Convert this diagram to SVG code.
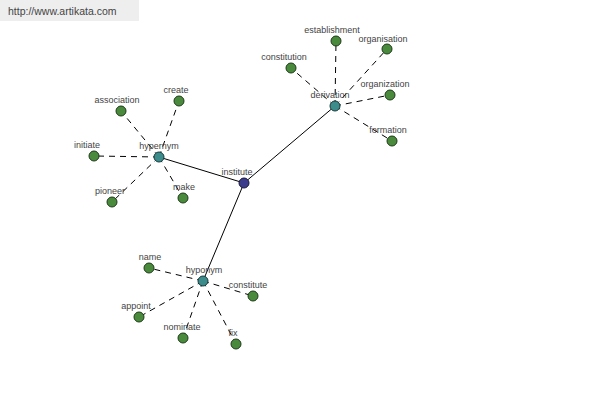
<svg xmlns="http://www.w3.org/2000/svg" width="600" height="400" viewBox="0 0 600 400">
<style>
.bg{fill:#ffffff}
.hdr{fill:#eeeeee}
.hdrt{font-family:"Liberation Sans",Arial,sans-serif;font-size:10.5px;fill:#444444}
.e{stroke:#000;stroke-width:1;fill:none}
.d{stroke:#000;stroke-width:1;fill:none;stroke-dasharray:6,5}
.leaf{fill:#4a8a3c;stroke:#1e3a1a;stroke-width:1}
.hub{fill:#3c8c8c;stroke:#1a3a3a;stroke-width:1}
.root{fill:#3c3c8c;stroke:#1a1a3a;stroke-width:1}
.l{font-family:"Liberation Sans",Arial,sans-serif;font-size:9px;fill:#444444;text-anchor:middle}
</style>
<rect class="bg" x="0" y="0" width="600" height="400"/>
<rect class="hdr" x="0" y="0" width="139" height="21"/>
<text class="hdrt" x="8" y="15">http://www.artikata.com</text>
<g id="connectors">
<line class="e" x1="244" y1="183" x2="159" y2="157"/>
<line class="e" x1="244" y1="183" x2="335" y2="106"/>
<line class="e" x1="244" y1="183" x2="203" y2="281"/>
<line class="d" x1="159" y1="157" x2="121" y2="111"/>
<line class="d" x1="159" y1="157" x2="179" y2="101"/>
<line class="d" x1="159" y1="157" x2="94" y2="156"/>
<line class="d" x1="159" y1="157" x2="112" y2="202"/>
<line class="d" x1="159" y1="157" x2="183" y2="198"/>
<line class="d" x1="335" y1="106" x2="336" y2="41"/>
<line class="d" x1="335" y1="106" x2="387" y2="49"/>
<line class="d" x1="335" y1="106" x2="291" y2="68"/>
<line class="d" x1="335" y1="106" x2="390" y2="95"/>
<line class="d" x1="335" y1="106" x2="392" y2="141"/>
<line class="d" x1="203" y1="281" x2="149" y2="268"/>
<line class="d" x1="203" y1="281" x2="253" y2="296"/>
<line class="d" x1="203" y1="281" x2="139" y2="317"/>
<line class="d" x1="203" y1="281" x2="183" y2="338"/>
<line class="d" x1="203" y1="281" x2="236" y2="344"/>
</g>
<g id="institute"><circle class="root" cx="244" cy="183" r="5"/><text class="l" x="237" y="175">institute</text></g>
<g id="hypernym"><circle class="hub" cx="159" cy="157" r="5"/><text class="l" x="159" y="149">hypernym</text></g>
<g id="derivation"><circle class="hub" cx="335" cy="106" r="5"/><text class="l" x="330" y="98">derivation</text></g>
<g id="hyponym"><circle class="hub" cx="203" cy="281" r="5"/><text class="l" x="204" y="273">hyponym</text></g>
<g id="association"><circle class="leaf" cx="121" cy="111" r="5"/><text class="l" x="117" y="103">association</text></g>
<g id="create"><circle class="leaf" cx="179" cy="101" r="5"/><text class="l" x="176" y="93">create</text></g>
<g id="initiate"><circle class="leaf" cx="94" cy="156" r="5"/><text class="l" x="87" y="148">initiate</text></g>
<g id="pioneer"><circle class="leaf" cx="112" cy="202" r="5"/><text class="l" x="110" y="194">pioneer</text></g>
<g id="make"><circle class="leaf" cx="183" cy="198" r="5"/><text class="l" x="184" y="190">make</text></g>
<g id="establishment"><circle class="leaf" cx="336" cy="41" r="5"/><text class="l" x="332" y="33">establishment</text></g>
<g id="organisation"><circle class="leaf" cx="387" cy="49" r="5"/><text class="l" x="383" y="42">organisation</text></g>
<g id="constitution"><circle class="leaf" cx="291" cy="68" r="5"/><text class="l" x="284" y="60">constitution</text></g>
<g id="organization"><circle class="leaf" cx="390" cy="95" r="5"/><text class="l" x="385" y="87">organization</text></g>
<g id="formation"><circle class="leaf" cx="392" cy="141" r="5"/><text class="l" x="388" y="133">formation</text></g>
<g id="name"><circle class="leaf" cx="149" cy="268" r="5"/><text class="l" x="150" y="260">name</text></g>
<g id="constitute"><circle class="leaf" cx="253" cy="296" r="5"/><text class="l" x="248" y="288">constitute</text></g>
<g id="appoint"><circle class="leaf" cx="139" cy="317" r="5"/><text class="l" x="136" y="309">appoint</text></g>
<g id="nominate"><circle class="leaf" cx="183" cy="338" r="5"/><text class="l" x="182" y="330">nominate</text></g>
<g id="fix"><circle class="leaf" cx="236" cy="344" r="5"/><text class="l" x="233" y="336">fix</text></g>
</svg>
